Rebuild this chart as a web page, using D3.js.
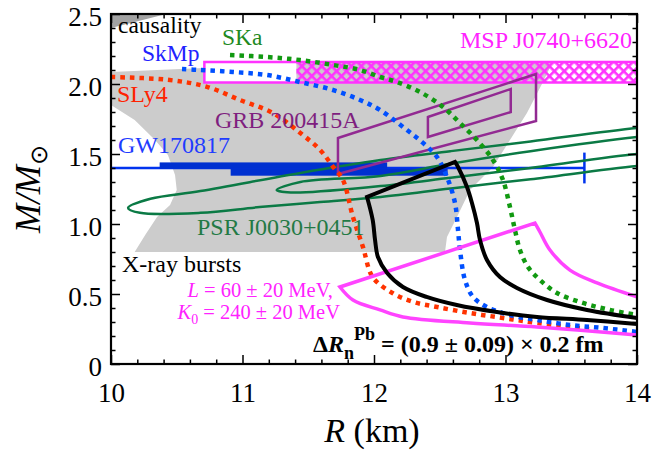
<!DOCTYPE html>
<html><head><meta charset="utf-8">
<script src="https://cdn.jsdelivr.net/npm/d3@7"></script>
<style>
html,body{margin:0;padding:0;background:#fff;}
svg{display:block;}
svg text{font-family:"Liberation Serif","Times New Roman",Times,serif;}
</style></head><body>
<svg id="chart" width="653" height="450"></svg>
<script>
// ---------- data (R in km, M in solar masses) ----------
const xTicks = [10, 11, 12, 13, 14];
const yTicks = [0, 0.5, 1.0, 1.5, 2.0, 2.5];
const yTickLabels = ["0", "0.5", "1.0", "1.5", "2.0", "2.5"];

const xrayRegion = [[10.0,2.086],[10.7,2.115],[11.0,2.16],[13.36,2.16],[13.285,2.014],[13.163,1.793],[13.034,1.60],[12.905,1.407],[12.73,1.243],[12.631,1.05],[12.555,0.907],[12.54,0.80],[10.18,0.80],[10.26,0.921],[10.35,1.05],[10.449,1.136],[10.50,1.243],[10.487,1.35],[10.433,1.493],[10.335,1.60],[10.18,1.743],[10.0,1.85]];
const causality = [[10.0,2.40],[10.42,2.5],[10.0,2.5]];

const mspR = [10.71, 11.41, 14.0];
const mspM = [2.01, 2.157];

const gwLine = [[10.0,1.40],[13.6,1.40]];
const gwErr = [[13.6,1.29],[13.6,1.51]];
const gwBarUpper = [10.37, 12.1, 1.395, 1.44];
const gwBarLower = [10.91, 12.56, 1.345, 1.395];

const grbOuter = [[11.726,1.614],[13.232,2.071],[13.232,1.736],[11.726,1.357]];
const grbInner = [[12.41,1.764],[13.04,1.964],[13.04,1.80],[12.41,1.621]];

const psrOuter = [[10.13,1.115],[10.30,1.18],[10.68,1.235],[11.44,1.365],[12.05,1.457],[12.58,1.52],[13.19,1.59],[14.0,1.686],[14.5,1.72],[14.8,1.69],[14.5,1.45],[14.0,1.414],[13.19,1.32],[12.58,1.253],[12.05,1.193],[11.59,1.157],[11.13,1.121],[10.68,1.08],[10.22,1.08]];
const psrInner = [[11.26,1.243],[11.44,1.30],[12.05,1.343],[12.58,1.43],[13.19,1.52],[14.0,1.621],[14.5,1.66],[14.8,1.62],[14.5,1.53],[14.0,1.50],[13.19,1.40],[12.58,1.33],[12.05,1.271],[11.44,1.225],[11.30,1.23]];

const sly4 = [[10.0,2.05],[10.43,2.03],[10.73,1.98],[10.98,1.886],[11.23,1.793],[11.44,1.65],[11.59,1.529],[11.69,1.407],[11.764,1.314],[11.84,1.05],[11.916,0.836],[11.99,0.621],[12.14,0.507],[12.30,0.443],[12.48,0.407],[12.73,0.364],[12.98,0.329],[13.24,0.293],[13.64,0.25]];
const skmp = [[10.54,2.107],[10.677,2.10],[10.928,2.086],[11.186,2.064],[11.437,2.014],[11.688,1.957],[11.894,1.886],[12.046,1.814],[12.251,1.671],[12.373,1.579],[12.479,1.479],[12.555,1.336],[12.616,1.15],[12.639,0.957],[12.654,0.814],[12.692,0.60],[12.753,0.479],[12.859,0.407],[13.034,0.35],[13.24,0.314],[13.49,0.279],[13.74,0.257],[14.0,0.229]];
const ska = [[10.905,2.207],[11.186,2.193],[11.437,2.171],[11.688,2.136],[11.894,2.10],[12.046,2.05],[12.175,2.014],[12.35,1.943],[12.525,1.836],[12.654,1.721],[12.783,1.60],[12.905,1.457],[12.981,1.314],[13.034,1.121],[13.072,0.957],[13.11,0.814],[13.171,0.693],[13.262,0.60],[13.392,0.507],[13.589,0.436],[13.795,0.386],[14.0,0.35]];

// neutron skin constraint (black)
const skinLeft = [[11.947,1.193],[11.99,1.029],[12.008,0.886],[12.03,0.764],[12.10,0.65],[12.22,0.55],[12.40,0.479],[12.63,0.421],[12.935,0.371],[13.24,0.336],[13.62,0.314],[14.0,0.286]];
const skinRight = [[12.616,1.443],[12.639,1.407],[12.707,1.264],[12.745,1.15],[12.783,1.007],[12.806,0.886],[12.859,0.743],[12.958,0.621],[13.087,0.543],[13.316,0.457],[13.62,0.386],[14.0,0.329]];

// L, K0 constraint (magenta)
const lkLower = [[11.741,0.55],[11.84,0.457],[12.046,0.386],[12.22,0.336],[12.73,0.293],[13.24,0.264],[14.0,0.207]];
const lkRight = [[13.224,1.007],[13.262,0.943],[13.338,0.814],[13.49,0.671],[13.696,0.579],[14.0,0.479]];

// ---------- layout ----------
const svg = d3.select("#chart");
const L = 111, R = 637, T = 14, B = 364;
const FONT = "'Liberation Serif','Times New Roman',Times,serif";
const x = d3.scaleLinear().domain([10, 14]).range([L, R]);
const y = d3.scaleLinear().domain([0, 2.5]).range([B, T]);

const defs = svg.append("defs");
defs.append("clipPath").attr("id", "clip").append("rect")
  .attr("x", L).attr("y", T).attr("width", R - L).attr("height", B - T);
const pat = defs.append("pattern").attr("id", "hatch").attr("patternUnits", "userSpaceOnUse")
  .attr("width", 7).attr("height", 7).attr("patternTransform", "rotate(45)");
pat.append("rect").attr("x", 0).attr("y", 0).attr("width", 7).attr("height", 2.6).attr("fill", "#ff33ff");
pat.append("rect").attr("x", 0).attr("y", 0).attr("width", 2.6).attr("height", 7).attr("fill", "#ff33ff");

const plot = svg.append("g").attr("clip-path", "url(#clip)");
const lin = d3.line().x(d => x(d[0])).y(d => y(d[1]));
const smooth = d3.line().x(d => x(d[0])).y(d => y(d[1])).curve(d3.curveCatmullRom.alpha(0.5));
const closedSmooth = d3.line().x(d => x(d[0])).y(d => y(d[1])).curve(d3.curveCatmullRomClosed.alpha(0.5));

// gray regions
plot.append("path").attr("d", lin(xrayRegion) + "Z").attr("fill", "#cccccc");
plot.append("path").attr("d", lin(causality) + "Z").attr("fill", "#a3a3a3");

// MSP J0740 band
plot.append("rect").attr("x", x(mspR[0])).attr("y", y(mspM[1]))
  .attr("width", x(mspR[1]) - x(mspR[0])).attr("height", y(mspM[0]) - y(mspM[1]))
  .attr("fill", "#fff");
plot.append("rect").attr("x", x(mspR[1])).attr("y", y(mspM[1]))
  .attr("width", x(mspR[2]) - x(mspR[1])).attr("height", y(mspM[0]) - y(mspM[1]))
  .attr("fill", "url(#hatch)");
plot.append("path")
  .attr("d", `M${x(mspR[2])+5},${y(mspM[1])}H${x(mspR[0])}V${y(mspM[0])}H${x(mspR[2])+5}`)
  .attr("fill", "none").attr("stroke", "#ff33ff").attr("stroke-width", 2.5);

// GW170817
plot.append("path").attr("d", lin(gwLine)).attr("stroke", "#0033ee").attr("stroke-width", 2.5).attr("fill", "none");
plot.append("path").attr("d", lin(gwErr)).attr("stroke", "#0033ee").attr("stroke-width", 2.5).attr("fill", "none");
[gwBarUpper, gwBarLower].forEach(b => {
  plot.append("rect").attr("x", x(b[0])).attr("y", y(b[3])).attr("width", x(b[1]) - x(b[0]))
    .attr("height", y(b[2]) - y(b[3])).attr("fill", "#0030d0");
});

// PSR J0030 ellipses
[psrOuter, psrInner].forEach(p => {
  plot.append("path").attr("d", closedSmooth(p)).attr("fill", "none")
    .attr("stroke", "#0b7a45").attr("stroke-width", 2.5);
});

// GRB 200415A
[grbOuter, grbInner].forEach(p => {
  plot.append("path").attr("d", lin(p) + "Z").attr("fill", "none")
    .attr("stroke", "#922a92").attr("stroke-width", 2.5);
});

// EoS dotted curves
const dotted = [[sly4, "#ff3300"], [skmp, "#0050ff"], [ska, "#119911"]];
dotted.forEach(([d, c]) => {
  plot.append("path").attr("d", smooth(d)).attr("fill", "none").attr("stroke", c)
    .attr("stroke-width", 4.5).attr("stroke-dasharray", "4.5,5");
});

// composite branch paths
function branchPath(first, second) {
  const a = smooth(first.slice().reverse());
  const b = smooth(second).replace(/^M/, "L");
  return a + b;
}
plot.append("path").attr("d", branchPath(lkLower, lkRight)).attr("fill", "none")
  .attr("stroke", "#ff44ff").attr("stroke-width", 3.5).attr("stroke-linejoin", "miter");
plot.append("path").attr("d", branchPath(skinLeft, skinRight)).attr("fill", "none")
  .attr("stroke", "#000").attr("stroke-width", 4).attr("stroke-linejoin", "miter");

// ---------- axes ----------
const minorX = d3.range(10, 14.001, 0.2).filter(v => Math.abs(v - Math.round(v)) > 1e-6);
const minorY = d3.range(0, 2.5001, 0.1).filter(v => Math.abs(v * 2 - Math.round(v * 2)) > 1e-6);
function styleAxis(g) {
  g.attr("font-family", FONT);
  g.select(".domain").remove();
  g.selectAll("line").attr("stroke", "#000").attr("stroke-width", 1.5);
}
function styleText(g) { g.selectAll("text").attr("font-size", 27).attr("fill", "#000").attr("font-family", FONT); }
svg.append("g").attr("transform", `translate(0,${B})`)
  .call(d3.axisBottom(x).tickValues(xTicks).tickSize(-9).tickPadding(19).tickFormat(d3.format("d")))
  .call(styleAxis).call(styleText);
svg.append("g").attr("transform", `translate(0,${B})`)
  .call(d3.axisBottom(x).tickValues(minorX).tickSize(-4.5).tickFormat("")).call(styleAxis);
svg.append("g").attr("transform", `translate(0,${T})`)
  .call(d3.axisTop(x).tickValues(xTicks).tickSize(-9).tickFormat("")).call(styleAxis);
svg.append("g").attr("transform", `translate(0,${T})`)
  .call(d3.axisTop(x).tickValues(minorX).tickSize(-4.5).tickFormat("")).call(styleAxis);
svg.append("g").attr("transform", `translate(${L},0)`)
  .call(d3.axisLeft(y).tickValues(yTicks).tickSize(-9).tickPadding(9).tickFormat((d, i) => yTickLabels[i]))
  .call(styleAxis).call(styleText).call(g => g.selectAll("text").attr("dy", "0.42em"));
svg.append("g").attr("transform", `translate(${L},0)`)
  .call(d3.axisLeft(y).tickValues(minorY).tickSize(-4.5).tickFormat("")).call(styleAxis);
svg.append("g").attr("transform", `translate(${R},0)`)
  .call(d3.axisRight(y).tickValues(yTicks).tickSize(-9).tickFormat("")).call(styleAxis);
svg.append("g").attr("transform", `translate(${R},0)`)
  .call(d3.axisRight(y).tickValues(minorY).tickSize(-4.5).tickFormat("")).call(styleAxis);
svg.append("rect").attr("x", L).attr("y", T).attr("width", R - L).attr("height", B - T)
  .attr("fill", "none").attr("stroke", "#000").attr("stroke-width", 2.2);

// axis titles
const xt = svg.append("text").attr("x", 372).attr("y", 442).attr("text-anchor", "middle")
  .attr("font-size", 34).attr("fill", "#000").attr("font-family", FONT);
xt.append("tspan").attr("font-style", "italic").text("R");
xt.append("tspan").text(" (km)");
const yt = svg.append("text").attr("transform", "translate(40,189) rotate(-90)")
  .attr("text-anchor", "middle").attr("font-size", 35).attr("fill", "#000").attr("font-family", FONT);
yt.append("tspan").attr("font-style", "italic").text("M/M");
yt.append("tspan").attr("font-size", 24).attr("dy", 7).text("\u2299");

// ---------- labels ----------
function label(txt, px, py, color, size) {
  return svg.append("text").attr("x", px).attr("y", py).attr("fill", color)
    .attr("font-family", FONT).attr("font-size", size || 24).text(txt);
}
label("causality", 118, 33, "#000", 23.5);
label("SkMp", 142, 61, "#2222ff", 23.5);
label("SKa", 222, 45, "#1f8a1f", 23.5);
label("SLy4", 117, 102, "#ff2200");
label("GRB 200415A", 215, 128, "#7f1f7f");
label("GW170817", 118, 153, "#1f3cff");
label("PSR J0030+0451", 197, 235, "#237a45");
label("X-ray bursts", 122, 272, "#000");
label("MSP J0740+6620", 632, 48, "#ff22ff").attr("text-anchor", "end");

const l1 = svg.append("text").attr("x", 333).attr("y", 297).attr("text-anchor", "end")
  .attr("font-family", FONT).attr("font-size", 20.5).attr("fill", "#ff22ff");
l1.append("tspan").attr("font-style", "italic").text("L");
l1.append("tspan").text(" = 60 \u00b1 20 MeV,");
const l2 = svg.append("text").attr("x", 340).attr("y", 319).attr("text-anchor", "end")
  .attr("font-family", FONT).attr("font-size", 20.5).attr("fill", "#ff22ff");
l2.append("tspan").attr("font-style", "italic").text("K");
l2.append("tspan").attr("font-size", 14).attr("dy", 5).text("0");
l2.append("tspan").attr("dy", -5).text(" = 240 \u00b1 20 MeV");

const bt = svg.append("text").attr("x", 313).attr("y", 352).attr("font-size", 24)
  .attr("font-family", FONT).attr("font-weight", "bold").attr("fill", "#000");
bt.append("tspan").text("\u0394");
bt.append("tspan").attr("font-style", "italic").text("R");
bt.append("tspan").attr("font-size", 18).attr("dy", 7).text("n");
bt.append("tspan").attr("font-size", 18).attr("dy", -19).text("Pb");
bt.append("tspan").attr("dy", 12).text(" = (0.9 \u00b1 0.09) \u00d7 0.2 fm");
</script>
</body></html>
